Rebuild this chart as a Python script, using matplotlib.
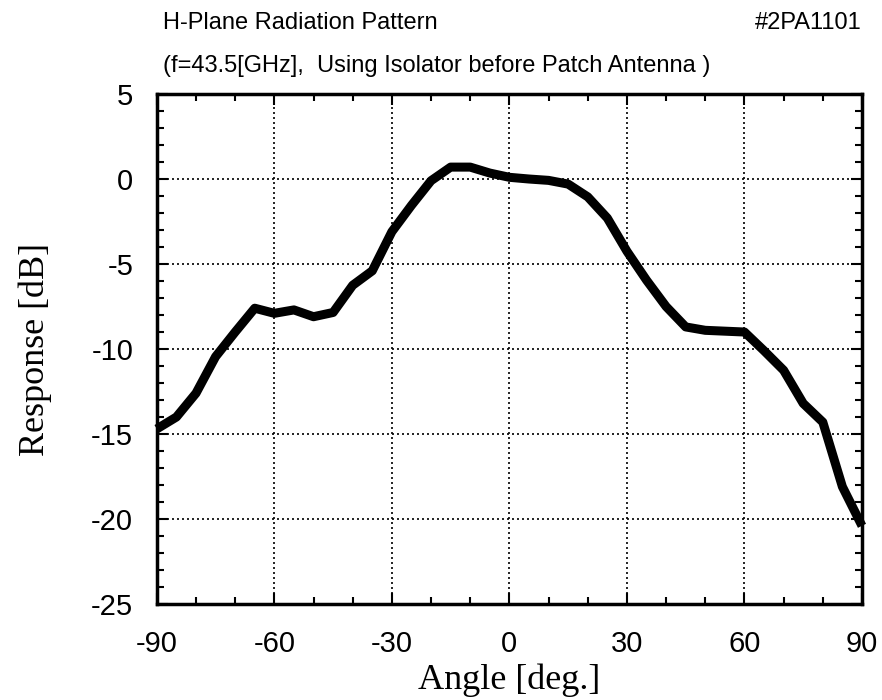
import numpy as np
import matplotlib.pyplot as plt
from matplotlib.ticker import MultipleLocator

plt.rcParams['axes.unicode_minus'] = False

# angles sampled every 5 degrees
angle = np.arange(-90, 91, 5)
response = [-14.7, -14.0, -12.6, -10.45, -9.0, -7.6, -7.9, -7.7, -8.1, -7.85,
            -6.25, -5.4, -3.1, -1.55, -0.1, 0.7, 0.7, 0.35, 0.1, 0.0,
            -0.08, -0.3, -1.05, -2.3, -4.25, -5.95, -7.5, -8.7, -8.9, -8.95,
            -9.0, -10.1, -11.25, -13.2, -14.3, -18.1, -20.4]

x_ticks = [-90, -60, -30, 0, 30, 60, 90]
y_ticks = [-25, -20, -15, -10, -5, 0, 5]

title1 = "H-Plane Radiation Pattern"
title2 = "(f=43.5[GHz],  Using Isolator before Patch Antenna )"
sample_id = "#2PA1101"

sans = ['Liberation Sans', 'DejaVu Sans']
serif = ['Liberation Serif', 'DejaVu Serif']

fig = plt.figure(figsize=(8.82, 7.0), dpi=100)
ax = fig.add_axes([0.1778, 0.1371, 0.7995, 0.7286])

ax.plot(angle, response, color='black', lw=6.5, solid_joinstyle='round',
        solid_capstyle='butt', clip_on=False, zorder=3)

ax.set_xlim(-90, 90)
ax.set_ylim(-25, 5)
ax.set_xticks(x_ticks)
ax.set_yticks(y_ticks)
ax.xaxis.set_minor_locator(MultipleLocator(10))
ax.yaxis.set_minor_locator(MultipleLocator(1))
ax.tick_params(which='both', direction='in', top=True, right=True, width=1.5)
ax.tick_params(which='major', length=8, labelsize=21)
ax.tick_params(axis='x', which='major', pad=19)
ax.tick_params(axis='y', which='major', pad=17)
ax.tick_params(which='minor', length=5)
for lab in ax.get_xticklabels() + ax.get_yticklabels():
    lab.set_family(sans)

ax.grid(True, which='major', color='black', linestyle=(0, (1.2, 1.8)), lw=1.2)
for s in ax.spines.values():
    s.set_linewidth(2.5)

ax.set_xlabel("Angle [deg.]", family=serif, fontsize=26, labelpad=4)
ax.set_ylabel("Response [dB]", family=serif, fontsize=26, labelpad=28)

fig.text(163 / 882, 1 - 29 / 700, title1, family=sans, fontsize=17, va='baseline')
fig.text(163 / 882, 1 - 72 / 700, title2, family=sans, fontsize=17, va='baseline')
fig.text(862 / 882, 1 - 29 / 700, sample_id, family=sans, fontsize=17,
         va='baseline', ha='right')

fig.savefig('out.png', dpi=100)
